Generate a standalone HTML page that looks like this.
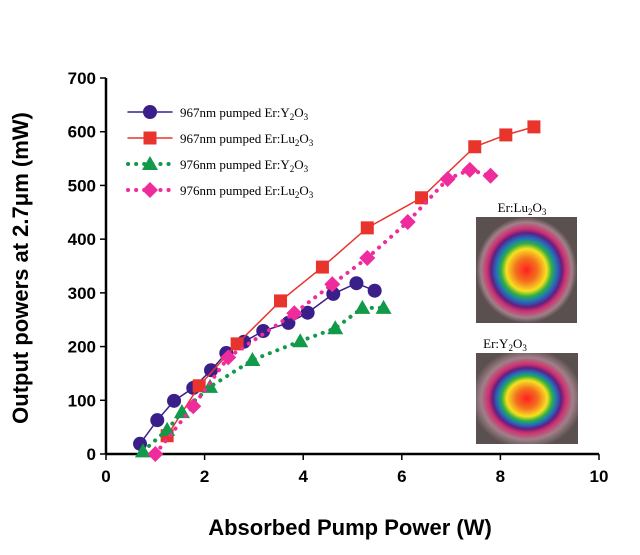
<!DOCTYPE html>
<html><head><meta charset="utf-8"><style>
body{margin:0;background:#fff;}
svg text{font-family:"Liberation Sans",sans-serif;}
</style></head><body>
<svg width="640" height="550" viewBox="0 0 640 550">
<defs>
<radialGradient id="beamLu" cx="50%" cy="50%" r="50%">
<stop offset="0" stop-color="#ff2020"/><stop offset="0.22" stop-color="#f47020"/><stop offset="0.4" stop-color="#f8e020"/><stop offset="0.5" stop-color="#30b040"/><stop offset="0.6" stop-color="#2070c0"/><stop offset="0.7" stop-color="#602080"/><stop offset="0.78" stop-color="#d03070"/><stop offset="0.9" stop-color="#a08088"/><stop offset="1" stop-color="#5a5050"/>
</radialGradient>
<radialGradient id="beamY" cx="50%" cy="50%" r="55%">
<stop offset="0" stop-color="#ff2020"/><stop offset="0.2" stop-color="#f47020"/><stop offset="0.36" stop-color="#f8e020"/><stop offset="0.45" stop-color="#30b040"/><stop offset="0.53" stop-color="#2070c0"/><stop offset="0.61" stop-color="#602080"/><stop offset="0.69" stop-color="#d03070"/><stop offset="0.82" stop-color="#a08088"/><stop offset="1" stop-color="#5a5050"/>
</radialGradient>
</defs>
<g id="axes"></g>
<g id="series"></g>
<g id="legend"></g>
<text x="28" y="268" transform="rotate(-90 28 268)" text-anchor="middle" font-size="22" font-weight="bold">Output powers at 2.7μm (mW)</text>
<text x="350" y="535" text-anchor="middle" font-size="22" font-weight="bold">Absorbed Pump Power (W)</text>
<g>
<text x="522" y="212" text-anchor="middle" font-size="13" style="font-family:'Liberation Serif',serif">Er:Lu<tspan font-size="9" dy="3">2</tspan><tspan dy="-3">O</tspan><tspan font-size="9" dy="3">3</tspan></text>
<rect x="476" y="217" width="101" height="106" fill="url(#beamLu)"/>
</g>
<g>
<text x="505" y="348" text-anchor="middle" font-size="13" style="font-family:'Liberation Serif',serif">Er:Y<tspan font-size="9" dy="3">2</tspan><tspan dy="-3">O</tspan><tspan font-size="9" dy="3">3</tspan></text>
<rect x="476" y="353" width="102" height="91" fill="url(#beamY)"/>
</g>
</svg>
<script>
const xTicks=[0,2,4,6,8,10];
const yTicks=[0,100,200,300,400,500,600,700];
const purpleX=[0.69,1.04,1.38,1.77,2.13,2.44,2.8,3.19,3.7,4.09,4.61,5.08,5.45];
const purpleY=[19,63,99,123,156,188,209,229,244,263,298,318,304];
const redX=[1.24,1.89,2.66,3.54,4.39,5.3,6.4,7.48,8.11,8.68];
const redY=[34,127,205,285,348,421,477,572,594,609];
const greenX=[0.75,1.24,1.54,2.11,2.97,3.94,4.65,5.2,5.63];
const greenY=[5,45,78,125,175,210,234,272,272];
const pinkX=[1.0,1.77,2.48,3.82,4.59,5.3,6.12,6.93,7.38,7.8];
const pinkY=[0,89,180,262,316,365,432,512,529,518];
const legendLabels=["967nm pumped Er:Y","967nm pumped Er:Lu","976nm pumped Er:Y","976nm pumped Er:Lu"];

const NS="http://www.w3.org/2000/svg";
const X0=106,X1=599,Y0=454,Y1=78;
const sx=v=>X0+(v-0)/(10-0)*(X1-X0);
const sy=v=>Y0-(v-0)/(700-0)*(Y0-Y1);
function mk(tag,attrs,parent){const e=document.createElementNS(NS,tag);for(const k in attrs)e.setAttribute(k,attrs[k]);parent.appendChild(e);return e;}
const axes=document.getElementById('axes');
let ax=mk('line',{x1:X0,y1:Y0,x2:X1,y2:Y0,stroke:'#000','stroke-width':2.5},axes);


let ay=mk('line',{x1:X0,y1:Y0,x2:X0,y2:Y1,stroke:'#000','stroke-width':2.5},axes);


xTicks.forEach(t=>{
 mk('line',{x1:sx(t),y1:Y0,x2:sx(t),y2:Y0+6,stroke:'#000','stroke-width':1.5},axes);
 const tx=mk('text',{x:sx(t),y:Y0+28,'text-anchor':'middle','font-size':17,'font-weight':'bold'},axes);
 tx.textContent=t;
 
 
});
yTicks.forEach(t=>{
 mk('line',{x1:X0-6,y1:sy(t),x2:X0,y2:sy(t),stroke:'#000','stroke-width':1.5},axes);
 const tx=mk('text',{x:X0-10,y:sy(t)+6,'text-anchor':'end','font-size':17,'font-weight':'bold'},axes);
 tx.textContent=t;
 
 
});
function marker(kind,cx,cy,color,parent){
 let e;
 if(kind==='circle')e=mk('circle',{cx:cx,cy:cy,r:7,fill:color},parent);
 else if(kind==='square')e=mk('rect',{x:cx-6.5,y:cy-6.5,width:13,height:13,fill:color},parent);
 else if(kind==='tri')e=mk('polygon',{points:`${cx},${cy-8} ${cx+8},${cy+6} ${cx-8},${cy+6}`,fill:color},parent);
 else e=mk('polygon',{points:`${cx},${cy-8} ${cx+8},${cy} ${cx},${cy+8} ${cx-8},${cy}`,fill:color},parent);
 return e;
}
const seriesDefs=[
 {xs:purpleX,ys:purpleY,color:'#3a1f8a',kind:'circle',dash:null,name:'series-967-y2o3'},
 {xs:redX,ys:redY,color:'#e8342c',kind:'square',dash:null,name:'series-967-lu2o3'},
 {xs:greenX,ys:greenY,color:'#13994a',kind:'tri',dash:'0.1 8',name:'series-976-y2o3'},
 {xs:pinkX,ys:pinkY,color:'#ee2c9c',kind:'diamond',dash:'0.1 8',name:'series-976-lu2o3'}
];
const sg=document.getElementById('series');
seriesDefs.forEach(s=>{
 const g=mk('g',{},sg);
 
 
 const pts=s.xs.map((x,i)=>sx(x)+','+sy(s.ys[i])).join(' ');
 const a={points:pts,fill:'none',stroke:s.color,'stroke-width':s.dash?4:1.5,'stroke-linecap':'round'};
 if(s.dash)a['stroke-dasharray']=s.dash;
 mk('polyline',a,g);
 s.xs.forEach((x,i)=>{
  const m=marker(s.kind,sx(x),sy(s.ys[i]),s.color,g);
  
  
 });
});
const lg=document.getElementById('legend');
seriesDefs.forEach((s,i)=>{
 const y=112+i*26;
 const g=mk('g',{},lg);
 
 
 const a={x1:128,y1:y,x2:172,y2:y,stroke:s.color,'stroke-width':s.dash?4:1.5,'stroke-linecap':'round'};
 if(s.dash)a['stroke-dasharray']=s.dash;
 mk('line',a,g);
 marker(s.kind,150,y,s.color,g);
 const t=mk('text',{x:180,y:y+5,'font-size':13,style:"font-family:'Liberation Serif',serif"},g);
 t.innerHTML=legendLabels[i]+'<tspan font-size="9" dy="3">2</tspan><tspan dy="-3">O</tspan><tspan font-size="9" dy="3">3</tspan>';
});
</script>
</body></html>
